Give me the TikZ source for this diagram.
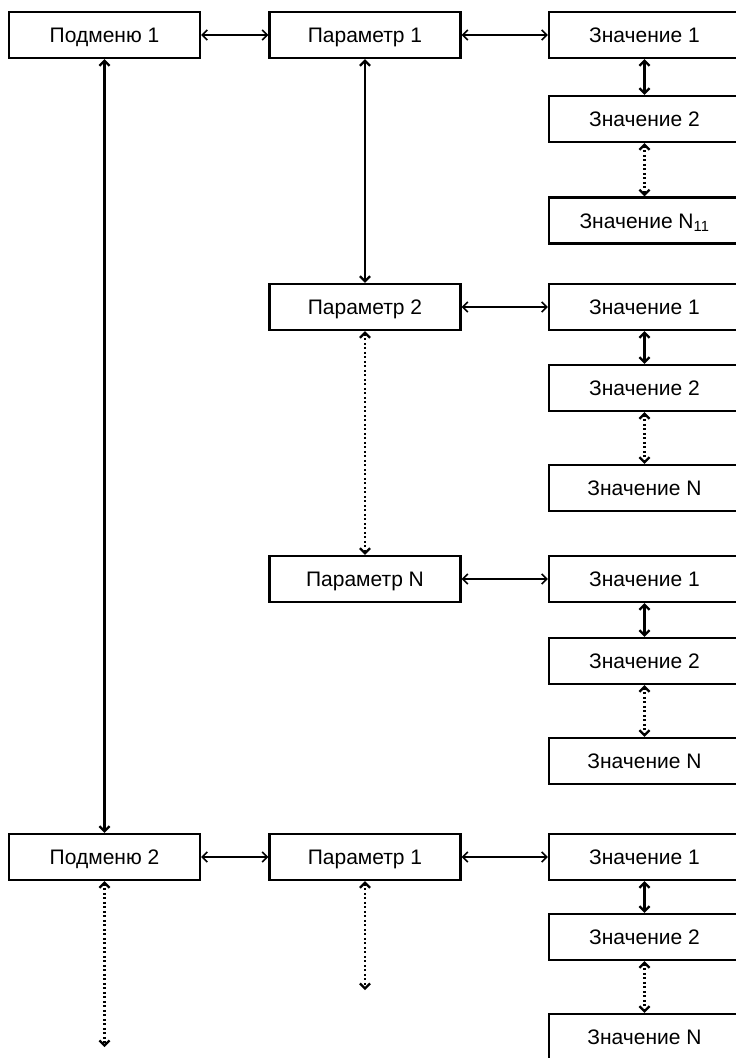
\documentclass[tikz,border=0pt]{standalone}
\usepackage{fontspec}
\setmainfont{Liberation Sans}
\usetikzlibrary{arrows.meta}

\begin{document}
\begin{tikzpicture}[x=1pt, y=-1pt,
    menubox/.style={draw, line width=2.3pt, minimum width=191pt, minimum height=46pt,
      inner sep=0pt, text height=15pt, text depth=0pt, font=\fontsize{21}{25}\selectfont},
    link/.style={line width=1.6pt,
      {Straight Barb[length=5pt,width=10pt]}-{Straight Barb[length=5pt,width=10pt]}},
    vlink/.style={line width=2.3pt,
      {Straight Barb[length=5pt,width=10pt]}-{Straight Barb[length=5pt,width=10pt]}},
    dotlink/.style={vlink, dash pattern=on 2pt off 2.5pt}]
    \useasboundingbox (0,0) rectangle (736,1058);

    % Submenus
    \node[menubox] (sub1) at (104.5,35) {Подменю 1};
    \node[menubox] (sub2) at (104.5,857) {Подменю 2};

    % Parameters
    \node[menubox] (par1) at (365,35) {Параметр 1};
    \node[menubox] (par2) at (365,307) {Параметр 2};
    \node[menubox] (parN) at (365,579) {Параметр N};
    \node[menubox] (parB) at (365,857) {Параметр 1};

    % Values of parameter 1
    \node[menubox] (va1) at (644.5,35) {Значение 1};
    \node[menubox] (va2) at (644.5,119) {Значение 2};
    \node[menubox] (vaN) at (644.5,220.5) {Значение N\textsubscript{11}};

    % Values of parameter 2
    \node[menubox] (vb1) at (644.5,307) {Значение 1};
    \node[menubox] (vb2) at (644.5,388) {Значение 2};
    \node[menubox] (vbN) at (644.5,488) {Значение N};

    % Values of parameter N
    \node[menubox] (vc1) at (644.5,579) {Значение 1};
    \node[menubox] (vc2) at (644.5,661) {Значение 2};
    \node[menubox] (vcN) at (644.5,761) {Значение N};

    % Values of submenu 2
    \node[menubox] (vd1) at (644.5,857) {Значение 1};
    \node[menubox] (vd2) at (644.5,937) {Значение 2};
    \node[menubox] (vdN) at (644.5,1037) {Значение N};

    % Open ends
    \coordinate (subend) at (104.5,1047);
    \coordinate (parend) at (365,990);

    % Horizontal links
    \draw[link] (sub1) -- (par1);
    \draw[link] (par1) -- (va1);
    \draw[link] (par2) -- (vb1);
    \draw[link] (parN) -- (vc1);
    \draw[link] (sub2) -- (parB);
    \draw[link] (parB) -- (vd1);

    % Vertical links
    \draw[vlink] (sub1) -- (sub2);
    \draw[vlink] (par1) -- (par2);
    \draw[dotlink] (par2) -- (parN);
    \draw[dotlink] (sub2.south) -- (subend);
    \draw[dotlink] (parB.south) -- (parend);
    \foreach \c in {a,b,c,d} {
      \draw[vlink] (v\c1) -- (v\c2);
      \draw[dotlink] (v\c2) -- (v\c N);
    }
\end{tikzpicture}
\end{document}
